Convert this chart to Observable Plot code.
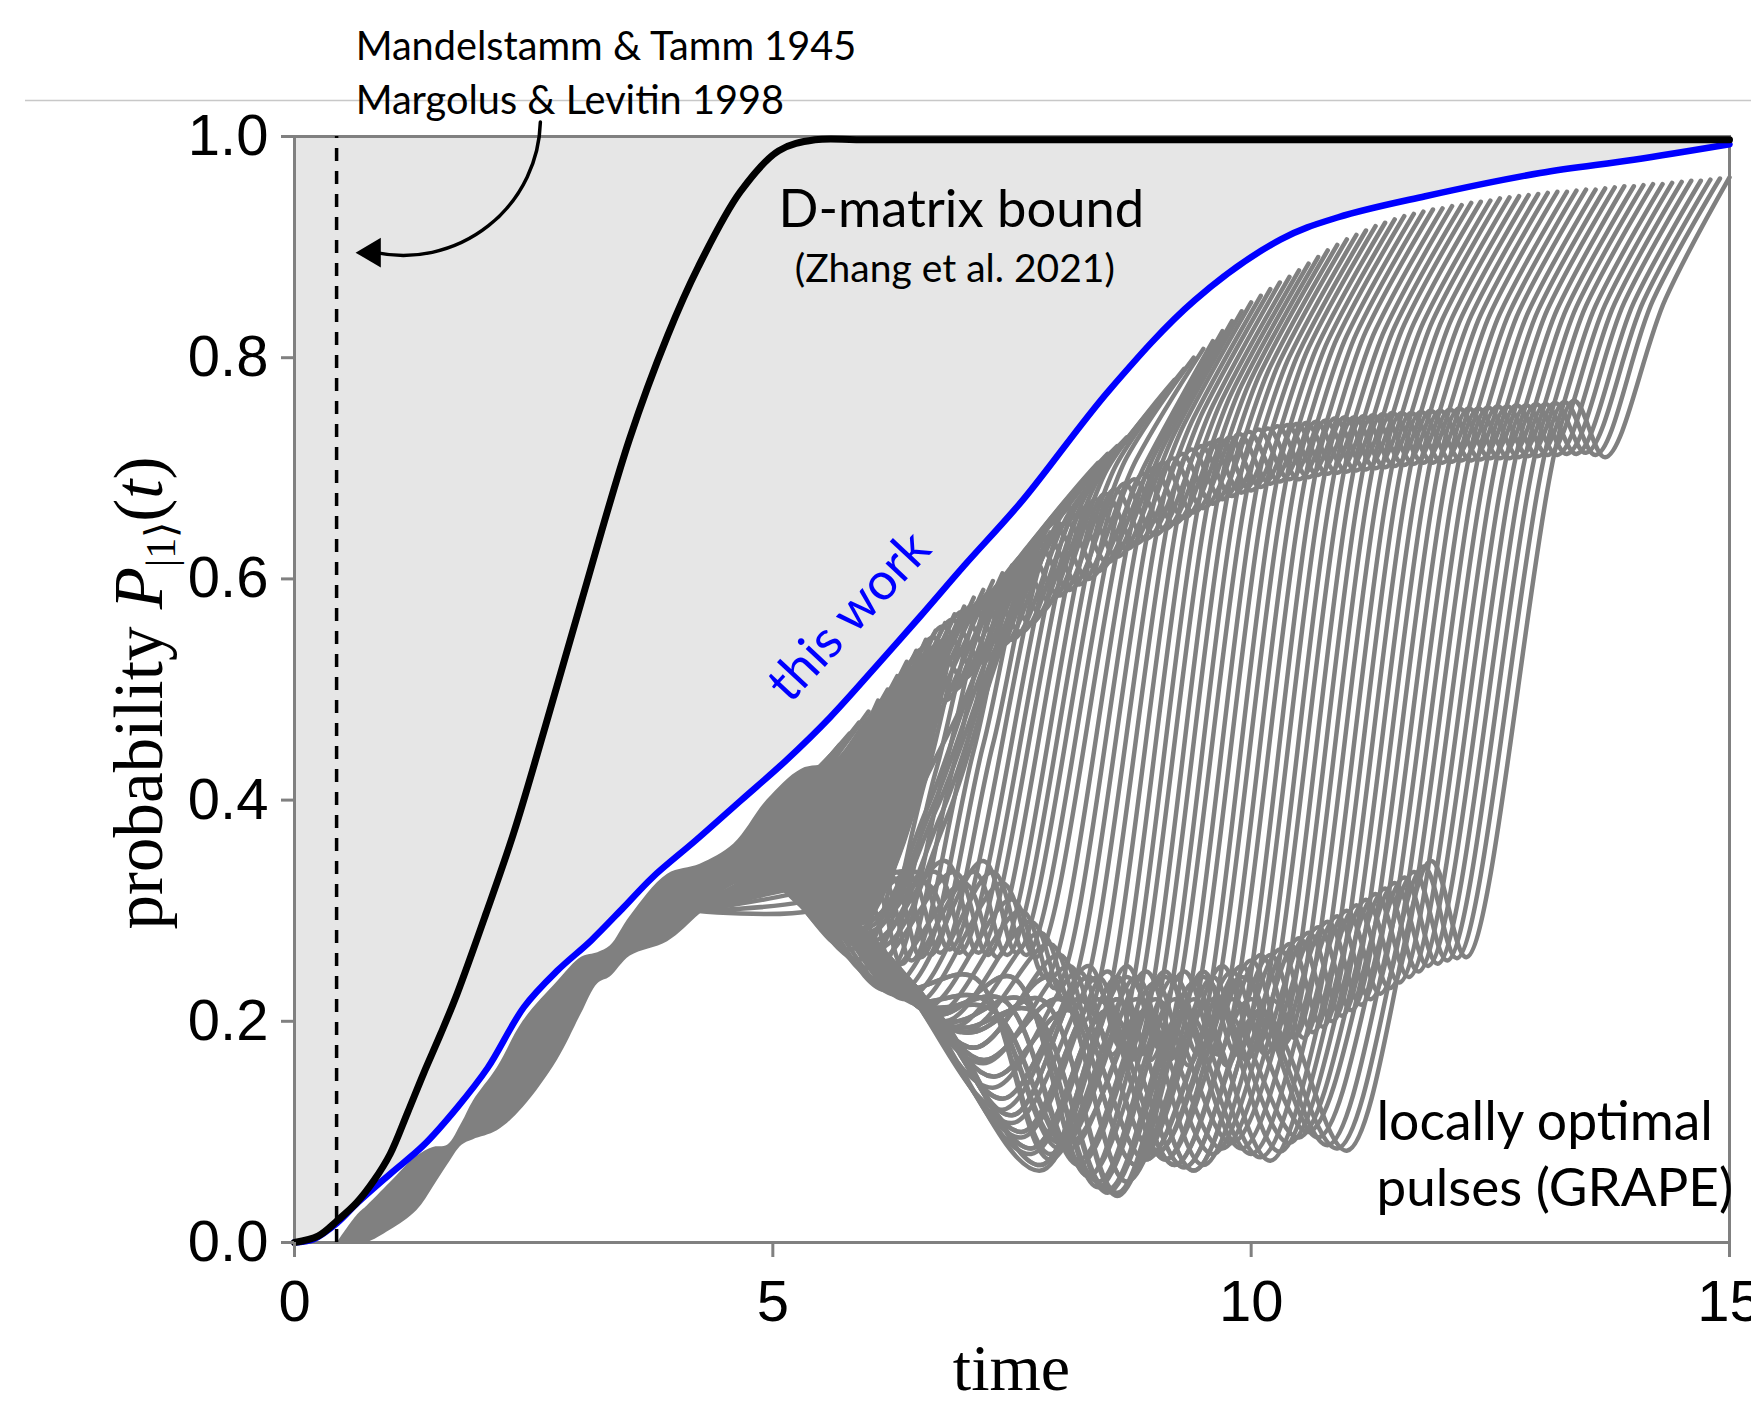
<!DOCTYPE html>
<html>
<head>
<meta charset="utf-8">
<script src="https://cdn.jsdelivr.net/npm/d3@7"></script>
<script src="https://cdn.jsdelivr.net/npm/@observablehq/plot@0.6"></script>
<style>
  body { margin: 0; background: #ffffff; }
  #chart { position: relative; width: 1751px; height: 1412px; }
</style>
</head>
<body>
<div id="chart"></div>
<script>
// ---------- data ----------
const xTicks = [0, 5, 10, 15];
const yTicks = [0, 0.2, 0.4, 0.6, 0.8, 1.0];

// D-matrix bound (black)
const blackT = [0, 0.25, 0.45, 0.65, 0.83, 1.0, 1.18, 1.35, 1.53, 1.7, 2.0, 2.29, 2.62, 3.0, 3.5, 3.9, 4.22, 4.66, 5.06, 5.44, 6.0, 15];
const blackP = [0, 0.006, 0.02, 0.036, 0.056, 0.08, 0.117, 0.153, 0.189, 0.225, 0.297, 0.37, 0.466, 0.58, 0.726, 0.82, 0.882, 0.95, 0.987, 0.997, 0.997, 0.997];

// this work (blue)
const blueT = [0, 0.2, 0.45, 0.66, 1.0, 1.35, 1.7, 2.02, 2.4, 2.75, 3.1, 3.44, 3.74, 4.2, 4.67, 5.14, 5.6, 6.07, 6.54, 7.0, 7.61, 8.52, 9.41, 10.31, 10.91, 11.82, 13.02, 14.0, 15];
const blueP = [0, 0.003, 0.018, 0.036, 0.062, 0.088, 0.122, 0.158, 0.213, 0.246, 0.273, 0.303, 0.33, 0.364, 0.40, 0.436, 0.475, 0.52, 0.566, 0.612, 0.671, 0.771, 0.852, 0.907, 0.927, 0.946, 0.967, 0.979, 0.993];

// Mandelstamm-Tamm / Margolus-Levitin time
const mtBound = [0.44];

// dense early part of the GRAPE bundle (lower / upper edge)
const bandT    = [0.45, 0.66, 0.76, 1.0, 1.28, 1.45, 1.6, 1.75, 1.87, 2.12, 2.39, 2.75, 3.0, 3.17, 3.3, 3.51, 3.9, 4.24, 4.59, 4.94, 5.3, 5.63, 5.99, 6.26, 6.6, 6.85];
const bandLow  = [0, 0, 0, 0.011, 0.029, 0.05, 0.07, 0.088, 0.093, 0.101, 0.122, 0.165, 0.207, 0.234, 0.24, 0.259, 0.272, 0.297, 0.323, 0.323, 0.318, 0.29, 0.29, 0.33, 0.42, 0.52];
const bandHigh = [0, 0.025, 0.033, 0.054, 0.078, 0.086, 0.088, 0.108, 0.128, 0.158, 0.2, 0.236, 0.258, 0.262, 0.268, 0.295, 0.333, 0.342, 0.36, 0.40, 0.428, 0.435, 0.475, 0.50, 0.535, 0.55];

// locally optimal GRAPE pulses: each row is t0,P0, t1,P1, ... (one row per pulse duration)
const grapeCurves = [
  [4.2,0.33, 4.8,0.37, 5.2,0.405, 5.6,0.44],
  [4.2,0.328, 4.8,0.365, 5.25,0.405, 5.7,0.45],
  [4.2,0.325, 4.8,0.36, 5.3,0.41, 5.8,0.46],
  [4.2,0.322, 4.8,0.355, 5.35,0.41, 5.9,0.47],
  [4.2,0.32, 4.8,0.35, 5.4,0.41, 6.0,0.48],
  [4.2,0.318, 4.8,0.348, 5.3,0.38, 5.75,0.43, 6.1,0.49],
  [4.2,0.315, 4.8,0.345, 5.3,0.37, 5.8,0.44, 6.2,0.50],
  [4.2,0.312, 4.8,0.342, 5.35,0.365, 5.85,0.44, 6.3,0.512],
  [4.2,0.31, 4.8,0.34, 5.4,0.36, 5.9,0.44, 6.4,0.525],
  [4.2,0.308, 4.8,0.338, 5.45,0.355, 6.0,0.445, 6.5,0.535],
  [4.2,0.305, 4.8,0.335, 5.5,0.35, 6.1,0.45, 6.6,0.545],
  [4.2,0.302, 4.85,0.332, 5.55,0.345, 6.15,0.45, 6.7,0.553],
  [4.2,0.30, 4.9,0.33, 5.6,0.34, 6.2,0.45, 6.8,0.56],
  [4.2,0.30, 4.95,0.33, 5.65,0.335, 6.25,0.445, 6.9,0.568],
  [4.2,0.30, 5.0,0.33, 5.7,0.33, 6.3,0.44, 7.0,0.575],
  [4.2,0.30, 5.0,0.328, 5.75,0.325, 6.4,0.45, 7.1,0.583],
  [4.2,0.30, 5.0,0.325, 5.8,0.32, 6.5,0.46, 7.2,0.59],
  [4.2,0.30, 5.0,0.325, 5.85,0.315, 6.55,0.455, 7.3,0.598],
  [4.2,0.30, 5.0,0.325, 5.9,0.31, 6.6,0.45, 7.4,0.605],
  [4.2,0.30, 5.0,0.325, 5.95,0.30, 6.6,0.42, 7.05,0.50, 7.5,0.612],
  [4.2,0.30, 5.0,0.325, 6.0,0.29, 6.6,0.39, 7.1,0.51, 7.6,0.62],
  [4.2,0.30, 5.0,0.325, 6.0,0.285, 6.65,0.39, 7.2,0.52, 7.7,0.628],
  [4.2,0.30, 5.0,0.325, 6.0,0.28, 6.7,0.39, 7.3,0.53, 7.8,0.635],
  [4.2,0.30, 5.0,0.325, 6.05,0.272, 6.75,0.385, 7.35,0.535, 7.9,0.642],
  [4.2,0.30, 5.0,0.325, 6.1,0.265, 6.8,0.38, 7.4,0.54, 8.0,0.65],
  [4.2,0.30, 4.9,0.33, 5.4,0.305, 5.95,0.41, 6.47,0.525, 6.8,0.49, 7.4,0.60, 8.1,0.665],
  [4.2,0.30, 4.9,0.33, 5.45,0.30, 6.0,0.42, 6.57,0.537, 6.9,0.50, 7.5,0.61, 8.2,0.68],
  [4.2,0.30, 5.0,0.33, 5.55,0.292, 6.1,0.42, 6.67,0.547, 7.0,0.51, 7.6,0.62, 8.3,0.693],
  [4.2,0.30, 5.1,0.33, 5.65,0.285, 6.2,0.42, 6.77,0.557, 7.1,0.52, 7.7,0.63, 8.4,0.705],
  [4.2,0.30, 5.2,0.33, 5.75,0.278, 6.3,0.42, 6.87,0.563, 7.2,0.525, 7.8,0.64, 8.5,0.713],
  [4.2,0.30, 5.3,0.33, 5.85,0.27, 6.4,0.42, 6.97,0.57, 7.3,0.53, 7.9,0.65, 8.6,0.72],
  [4.2,0.30, 4.8,0.32, 5.6,0.33, 5.95,0.262, 6.5,0.42, 7.07,0.575, 7.4,0.54, 8.0,0.655, 8.7,0.728],
  [4.2,0.30, 4.8,0.32, 5.7,0.33, 6.05,0.255, 6.6,0.42, 7.17,0.58, 7.5,0.545, 8.1,0.66, 8.8,0.735],
  [4.2,0.30, 4.9,0.32, 5.8,0.33, 6.15,0.252, 6.7,0.425, 7.27,0.588, 7.6,0.552, 8.2,0.67, 8.9,0.745],
  [4.2,0.30, 5.0,0.32, 5.9,0.33, 6.25,0.25, 6.8,0.43, 7.37,0.595, 7.7,0.56, 8.3,0.68, 9.0,0.755],
  [4.2,0.30, 5.1,0.318, 6.0,0.333, 6.35,0.252, 6.9,0.435, 7.47,0.605, 7.8,0.57, 8.4,0.69, 9.1,0.768],
  [4.2,0.30, 5.2,0.315, 6.1,0.335, 6.45,0.255, 7.0,0.44, 7.57,0.616, 7.9,0.58, 8.5,0.70, 9.2,0.78],
  [4.2,0.30, 5.3,0.308, 6.2,0.335, 6.55,0.258, 7.1,0.445, 7.67,0.624, 8.0,0.585, 8.6,0.705, 9.3,0.79],
  [4.2,0.30, 5.4,0.30, 6.3,0.335, 6.65,0.26, 7.2,0.45, 7.77,0.632, 8.1,0.59, 8.7,0.71, 9.4,0.80],
  [4.2,0.30, 5.0,0.325, 5.5,0.295, 6.4,0.335, 6.75,0.262, 7.3,0.45, 7.87,0.638, 8.2,0.595, 8.8,0.708, 9.5,0.808],
  [4.2,0.30, 5.0,0.325, 5.6,0.286, 6.5,0.335, 6.85,0.265, 7.97,0.644, 8.3,0.60, 8.9,0.705, 9.6,0.815],
  [4.2,0.30, 5.0,0.325, 5.7,0.275, 6.6,0.325, 6.95,0.262, 8.07,0.651, 8.4,0.607, 9.0,0.714, 9.7,0.824],
  [4.2,0.30, 5.0,0.325, 5.8,0.265, 6.7,0.335, 7.05,0.26, 8.17,0.658, 8.5,0.615, 9.1,0.723, 9.8,0.833],
  [4.2,0.30, 5.05,0.325, 5.9,0.256, 6.8,0.345, 7.15,0.262, 8.27,0.665, 8.6,0.62, 9.2,0.732, 9.9,0.842],
  [4.2,0.30, 5.1,0.325, 6.0,0.248, 6.9,0.335, 7.25,0.26, 8.37,0.672, 8.7,0.627, 9.3,0.74, 10.0,0.85],
  [4.2,0.30, 5.15,0.323, 6.1,0.238, 7.0,0.325, 7.35,0.258, 8.47,0.677, 8.8,0.632, 9.4,0.746, 10.1,0.856],
  [4.2,0.30, 5.2,0.322, 6.2,0.228, 7.1,0.335, 7.45,0.26, 8.57,0.681, 8.9,0.636, 9.5,0.752, 10.2,0.862],
  [4.2,0.30, 5.25,0.32, 6.3,0.224, 7.2,0.345, 7.55,0.262, 8.67,0.686, 9.0,0.64, 9.6,0.757, 10.3,0.868],
  [4.2,0.30, 5.3,0.32, 6.4,0.22, 7.3,0.335, 7.65,0.26, 8.77,0.69, 9.1,0.645, 9.7,0.763, 10.4,0.873],
  [4.2,0.30, 5.3,0.32, 5.85,0.285, 6.5,0.216, 7.4,0.325, 7.75,0.258, 8.87,0.695, 9.2,0.65, 9.8,0.769, 10.5,0.879],
  [4.2,0.30, 5.3,0.32, 5.9,0.28, 6.6,0.212, 7.5,0.31, 7.85,0.24, 8.97,0.70, 9.3,0.655, 9.9,0.775, 10.6,0.885],
  [4.2,0.30, 5.3,0.32, 5.95,0.275, 6.7,0.206, 7.6,0.30, 7.95,0.23, 9.07,0.705, 9.4,0.66, 10.0,0.781, 10.7,0.891],
  [4.2,0.30, 5.3,0.32, 6.0,0.27, 6.8,0.20, 7.7,0.29, 8.05,0.22, 9.17,0.709, 9.5,0.664, 10.1,0.787, 10.8,0.897],
  [4.2,0.30, 5.3,0.32, 6.05,0.265, 6.9,0.195, 7.8,0.28, 8.15,0.21, 9.27,0.713, 9.6,0.668, 10.2,0.792, 10.9,0.902],
  [4.2,0.30, 5.3,0.32, 6.1,0.26, 7.0,0.19, 7.9,0.27, 8.25,0.20, 9.37,0.717, 9.7,0.672, 10.3,0.797, 11.0,0.907],
  [4.2,0.30, 5.3,0.32, 6.15,0.255, 7.1,0.176, 8.0,0.26, 8.35,0.185, 9.47,0.72, 9.8,0.675, 10.4,0.801, 11.1,0.911],
  [4.2,0.30, 5.3,0.32, 6.2,0.25, 7.2,0.162, 8.1,0.25, 8.45,0.175, 9.57,0.723, 9.9,0.678, 10.5,0.805, 11.2,0.915],
  [4.2,0.30, 5.3,0.32, 6.25,0.245, 7.3,0.14, 8.2,0.245, 8.55,0.17, 9.67,0.726, 10.0,0.68, 10.6,0.809, 11.3,0.919],
  [4.2,0.30, 5.3,0.32, 6.3,0.24, 7.4,0.12, 8.3,0.25, 8.65,0.175, 9.77,0.728, 10.1,0.683, 10.7,0.812, 11.4,0.922],
  [4.2,0.30, 5.3,0.32, 6.35,0.235, 7.5,0.108, 8.4,0.24, 8.75,0.165, 9.87,0.731, 10.2,0.686, 10.8,0.815, 11.5,0.925],
  [4.2,0.30, 5.3,0.32, 6.4,0.23, 7.6,0.095, 8.5,0.245, 8.85,0.17, 9.97,0.733, 10.3,0.688, 10.9,0.818, 11.6,0.928],
  [4.2,0.30, 5.3,0.32, 6.45,0.225, 7.7,0.08, 8.6,0.24, 8.95,0.165, 10.07,0.735, 10.4,0.69, 11.0,0.82, 11.7,0.93],
  [4.2,0.30, 5.3,0.32, 6.5,0.22, 7.8,0.065, 8.7,0.25, 9.05,0.175, 10.17,0.736, 10.5,0.69, 11.1,0.822, 11.8,0.932],
  [4.2,0.30, 5.3,0.32, 6.3,0.23, 7.1,0.24, 7.9,0.075, 8.8,0.24, 9.15,0.165, 10.27,0.738, 10.6,0.692, 11.2,0.824, 11.9,0.934],
  [4.2,0.30, 5.3,0.32, 6.4,0.22, 7.2,0.22, 8.0,0.085, 8.9,0.245, 9.25,0.17, 10.37,0.739, 10.7,0.694, 11.3,0.825, 12.0,0.935],
  [4.2,0.30, 5.3,0.32, 6.5,0.216, 7.3,0.21, 8.1,0.09, 9.0,0.235, 9.35,0.16, 10.47,0.74, 10.8,0.695, 11.4,0.826, 12.1,0.937],
  [4.2,0.30, 5.3,0.32, 6.6,0.212, 7.4,0.22, 8.2,0.07, 9.1,0.245, 9.45,0.17, 10.57,0.741, 10.9,0.696, 11.5,0.828, 12.2,0.938],
  [4.2,0.30, 5.3,0.32, 6.7,0.206, 7.5,0.24, 8.3,0.06, 9.2,0.24, 9.55,0.165, 10.67,0.742, 11.0,0.697, 11.6,0.83, 12.3,0.94],
  [4.2,0.30, 5.3,0.32, 6.8,0.20, 7.6,0.22, 8.4,0.05, 9.3,0.245, 9.65,0.17, 10.77,0.743, 11.1,0.698, 11.7,0.831, 12.4,0.941],
  [4.2,0.30, 5.3,0.32, 6.9,0.195, 7.7,0.21, 8.5,0.045, 9.4,0.235, 9.75,0.16, 10.87,0.745, 11.2,0.699, 11.8,0.832, 12.5,0.942],
  [4.2,0.30, 5.3,0.32, 7.0,0.19, 7.8,0.22, 8.6,0.042, 9.5,0.245, 9.85,0.17, 10.97,0.746, 11.3,0.70, 11.9,0.834, 12.6,0.944],
  [4.2,0.30, 5.3,0.32, 6.3,0.245, 7.1,0.176, 7.9,0.24, 8.7,0.055, 9.6,0.24, 9.95,0.165, 11.07,0.746, 11.4,0.701, 12.0,0.835, 12.7,0.945],
  [4.2,0.30, 5.3,0.32, 6.4,0.24, 7.2,0.165, 8.0,0.22, 8.8,0.07, 9.7,0.25, 10.05,0.175, 11.17,0.747, 11.5,0.702, 12.1,0.836, 12.8,0.946],
  [4.2,0.30, 5.3,0.32, 6.45,0.235, 7.3,0.15, 8.1,0.21, 8.9,0.075, 9.8,0.245, 10.15,0.17, 11.27,0.748, 11.6,0.703, 12.2,0.837, 12.9,0.947],
  [4.2,0.30, 5.3,0.32, 6.5,0.23, 7.4,0.13, 8.2,0.22, 9.0,0.08, 9.9,0.25, 10.25,0.175, 11.37,0.749, 11.7,0.704, 12.3,0.838, 13.0,0.948],
  [4.2,0.30, 5.3,0.32, 6.55,0.225, 7.5,0.115, 8.3,0.24, 9.1,0.075, 10.0,0.255, 10.35,0.18, 11.47,0.75, 11.8,0.705, 12.4,0.839, 13.1,0.949],
  [4.2,0.30, 5.3,0.32, 6.6,0.22, 7.6,0.10, 8.4,0.22, 9.2,0.07, 10.1,0.26, 10.45,0.185, 11.57,0.75, 11.9,0.705, 12.5,0.84, 13.2,0.95],
  [4.2,0.30, 5.3,0.32, 6.65,0.215, 7.7,0.085, 8.5,0.21, 9.3,0.068, 10.2,0.26, 10.55,0.185, 11.67,0.75, 12.0,0.705, 12.6,0.84, 13.3,0.95],
  [4.2,0.30, 5.3,0.32, 6.7,0.21, 7.8,0.07, 8.6,0.22, 9.4,0.065, 10.3,0.265, 10.65,0.19, 11.77,0.751, 12.1,0.706, 12.7,0.841, 13.4,0.951],
  [4.2,0.30, 5.3,0.32, 6.3,0.23, 7.1,0.24, 7.9,0.08, 8.7,0.24, 9.5,0.07, 10.4,0.27, 10.75,0.195, 11.87,0.752, 12.2,0.707, 12.8,0.842, 13.5,0.952],
  [4.2,0.30, 5.3,0.32, 6.4,0.22, 7.2,0.22, 8.0,0.09, 8.8,0.22, 9.6,0.08, 10.5,0.275, 10.85,0.20, 11.97,0.752, 12.3,0.707, 12.9,0.842, 13.6,0.952],
  [4.2,0.30, 5.3,0.32, 6.5,0.216, 7.3,0.21, 8.1,0.085, 8.9,0.21, 9.7,0.085, 10.6,0.28, 10.95,0.205, 12.07,0.753, 12.4,0.708, 13.0,0.843, 13.7,0.953],
  [4.2,0.30, 5.3,0.32, 6.6,0.212, 7.4,0.22, 8.2,0.075, 9.0,0.22, 9.8,0.09, 10.7,0.285, 11.05,0.21, 12.17,0.754, 12.5,0.709, 13.1,0.844, 13.8,0.954],
  [4.2,0.30, 5.3,0.32, 6.7,0.206, 7.5,0.24, 8.3,0.06, 9.1,0.24, 9.9,0.085, 10.8,0.29, 11.15,0.215, 12.27,0.754, 12.6,0.709, 13.2,0.844, 13.9,0.955],
  [4.2,0.30, 5.3,0.32, 6.8,0.20, 7.6,0.22, 8.4,0.055, 9.2,0.22, 10.0,0.08, 10.9,0.295, 11.25,0.22, 12.37,0.754, 12.7,0.709, 13.3,0.845, 14.0,0.955],
  [4.2,0.30, 5.3,0.32, 6.9,0.195, 7.7,0.21, 8.5,0.048, 9.3,0.21, 10.1,0.077, 11.0,0.30, 11.35,0.225, 12.47,0.755, 12.8,0.71, 13.4,0.846, 14.1,0.956],
  [4.2,0.30, 5.3,0.32, 7.0,0.19, 7.8,0.22, 8.6,0.045, 9.4,0.22, 10.2,0.074, 11.1,0.305, 11.45,0.23, 12.57,0.756, 12.9,0.711, 13.5,0.847, 14.2,0.957],
  [4.2,0.30, 5.3,0.32, 6.3,0.245, 7.1,0.176, 7.9,0.24, 8.7,0.055, 9.5,0.24, 10.3,0.082, 11.2,0.31, 11.55,0.235, 12.67,0.756, 13.0,0.711, 13.6,0.847, 14.3,0.957],
  [4.2,0.30, 5.3,0.32, 6.4,0.24, 7.2,0.165, 8.0,0.22, 8.8,0.07, 9.6,0.22, 10.4,0.09, 11.3,0.315, 11.65,0.24, 12.77,0.757, 13.1,0.712, 13.7,0.848, 14.4,0.958],
  [4.2,0.30, 5.3,0.32, 6.45,0.235, 7.3,0.15, 8.1,0.21, 8.9,0.075, 9.7,0.21, 10.5,0.095, 11.4,0.32, 11.75,0.245, 12.87,0.757, 13.2,0.712, 13.8,0.849, 14.5,0.959],
  [4.2,0.30, 5.3,0.32, 6.5,0.23, 7.4,0.13, 8.2,0.22, 9.0,0.08, 9.8,0.22, 10.6,0.10, 11.5,0.325, 11.85,0.25, 12.97,0.758, 13.3,0.713, 13.9,0.85, 14.6,0.96],
  [4.2,0.30, 5.3,0.32, 6.55,0.225, 7.5,0.115, 8.3,0.24, 9.1,0.075, 9.9,0.24, 10.7,0.095, 11.6,0.33, 11.95,0.252, 13.07,0.758, 13.4,0.713, 14.0,0.85, 14.7,0.96],
  [4.2,0.30, 5.3,0.32, 6.6,0.22, 7.6,0.10, 8.4,0.22, 9.2,0.07, 10.0,0.22, 10.8,0.088, 11.7,0.335, 12.05,0.255, 13.17,0.759, 13.5,0.714, 14.1,0.851, 14.8,0.961],
  [4.2,0.30, 5.3,0.32, 6.65,0.215, 7.7,0.085, 8.5,0.21, 9.3,0.068, 10.1,0.21, 10.9,0.085, 11.8,0.34, 12.15,0.257, 13.27,0.76, 13.6,0.712, 14.2,0.852, 14.9,0.962],
  [4.2,0.30, 5.3,0.32, 6.7,0.21, 7.8,0.07, 8.6,0.22, 9.4,0.065, 10.2,0.22, 11.0,0.083, 11.88,0.345, 12.25,0.258, 13.37,0.761, 13.7,0.71, 14.33,0.853, 15.0,0.963]
];

// ---------- tables built from the arrays ----------
const blackRows = blackT.map((t, i) => ({t, p: blackP[i]}));
const blueRows = blueT.map((t, i) => ({t, p: blueP[i]}));
const bandRows = bandT.map((t, i) => ({t, lo: bandLow[i], hi: bandHigh[i]}));
const grapeRows = [];
grapeCurves.forEach((c, id) => {
  for (let j = 0; j < c.length; j += 2) grapeRows.push({id, t: c[j], p: c[j + 1]});
});

// left-pointing filled triangle (arrow head), tip at the anchor point
const leftTriangle = {
  draw(ctx, size) {
    const r = Math.sqrt(size / Math.PI);
    ctx.moveTo(0, 0);
    ctx.lineTo(2.3 * r, -1.35 * r);
    ctx.lineTo(2.3 * r, 1.35 * r);
    ctx.closePath();
  }
};

const annoFont = "Lato, 'Open Sans', sans-serif";

const chart = Plot.plot({
  width: 1751,
  height: 1412,
  marginLeft: 294,
  marginRight: 22,
  marginTop: 136,
  marginBottom: 170,
  x: {domain: [0, 15]},
  y: {domain: [0, 1]},
  style: {
    fontFamily: "'Liberation Sans', Arial, Helvetica, sans-serif",
    fontSize: "58px",
    background: "transparent",
    color: "black",
    overflow: "visible"
  },
  marks: [
    Plot.areaY(blueRows, {x: "t", y1: "p", y2: 1, fill: "#e6e6e6", curve: "catmull-rom"}),
    Plot.areaY(bandRows, {x: "t", y1: "lo", y2: "hi", fill: "#808080", curve: "catmull-rom"}),
    Plot.line(grapeRows, {x: "t", y: "p", z: "id", stroke: "#808080", strokeWidth: 4.5, curve: "catmull-rom"}),
    Plot.frame({stroke: "#808080", strokeWidth: 3}),
    Plot.ruleX(mtBound, {y1: 0, y2: 1, stroke: "black", strokeWidth: 3.5, strokeDasharray: "13,10"}),
    Plot.line(blueRows, {x: "t", y: "p", stroke: "#0000ff", strokeWidth: 6.5, curve: "catmull-rom"}),
    Plot.line(blackRows, {x: "t", y: "p", stroke: "black", strokeWidth: 7, curve: "catmull-rom"}),
    Plot.axisX({ticks: xTicks, tickSize: 15, tickPadding: 22, stroke: "#808080", strokeWidth: 3, label: null, fontSize: 58}),
    Plot.axisY({ticks: yTicks, tickFormat: d => d.toFixed(1), tickSize: 13, tickPadding: 13, stroke: "#808080", strokeWidth: 3, label: null, fontSize: 58}),
    Plot.text(["Mandelstamm & Tamm 1945"], {x: 0.639, y: 1.069, textAnchor: "start", lineAnchor: "bottom", fontFamily: annoFont, fontSize: 39.7, fill: "black"}),
    Plot.text(["Margolus & Levitin 1998"], {x: 0.639, y: 1.020, textAnchor: "start", lineAnchor: "bottom", fontFamily: annoFont, fontSize: 39.7, fill: "black"}),
    Plot.text(["D-matrix bound"], {x: 5.06, y: 0.9186, textAnchor: "start", lineAnchor: "bottom", fontFamily: annoFont, fontSize: 52.5, fill: "black"}),
    Plot.text(["(Zhang et al. 2021)"], {x: 5.23, y: 0.868, textAnchor: "start", lineAnchor: "bottom", fontFamily: annoFont, fontSize: 39, fill: "black"}),
    Plot.text(["this work"], {x: 5.80, y: 0.566, rotate: -47, fontFamily: annoFont, fontSize: 52, fill: "#0000ff"}),
    Plot.text(["locally optimal"], {x: 11.31, y: 0.093, textAnchor: "start", lineAnchor: "bottom", fontFamily: annoFont, fontSize: 53.5, fill: "black"}),
    Plot.text(["pulses (GRAPE)"], {x: 11.31, y: 0.033, textAnchor: "start", lineAnchor: "bottom", fontFamily: annoFont, fontSize: 53, fill: "black"}),
    Plot.arrow([0], {x1: 2.57, y1: 1.013, x2: 0.85, y2: 0.895, bend: 50, stroke: "black", strokeWidth: 3.5, headLength: 0}),
    Plot.dot([0], {x: 0.638, y: 0.895, r: 11, symbol: leftTriangle, fill: "black", stroke: "none"})
  ]
});

// decorations and axis labels (positions derived from the scales)
const svg = d3.select(chart);
svg.insert("line", ":first-child")
  .attr("x1", 25).attr("x2", 1751).attr("y1", 100.5).attr("y2", 100.5)
  .attr("stroke", "#c8c8c8").attr("stroke-width", 1.5);

const xs = chart.scale("x"), ys = chart.scale("y");
const serif = "'Liberation Serif', 'Times New Roman', serif";

svg.append("text")
  .attr("x", xs.apply(7.5)).attr("y", 1390)
  .attr("text-anchor", "middle")
  .attr("font-family", serif).attr("font-size", 66).attr("fill", "black")
  .text("time");

const yl = svg.append("text")
  .attr("transform", `translate(162,${(ys.apply(0) + ys.apply(1)) / 2 + 4}) rotate(-90)`)
  .attr("text-anchor", "middle")
  .attr("font-family", serif).attr("font-size", 69).attr("fill", "black");
yl.append("tspan").text("probability ");
yl.append("tspan").attr("font-style", "italic").text("P");
yl.append("tspan").attr("font-size", 42).attr("dy", 13).text("|1⟩");
yl.append("tspan").attr("dy", -13).text("(");
yl.append("tspan").attr("font-style", "italic").text("t");
yl.append("tspan").text(")");

document.getElementById("chart").appendChild(chart);
</script>
</body>
</html>
